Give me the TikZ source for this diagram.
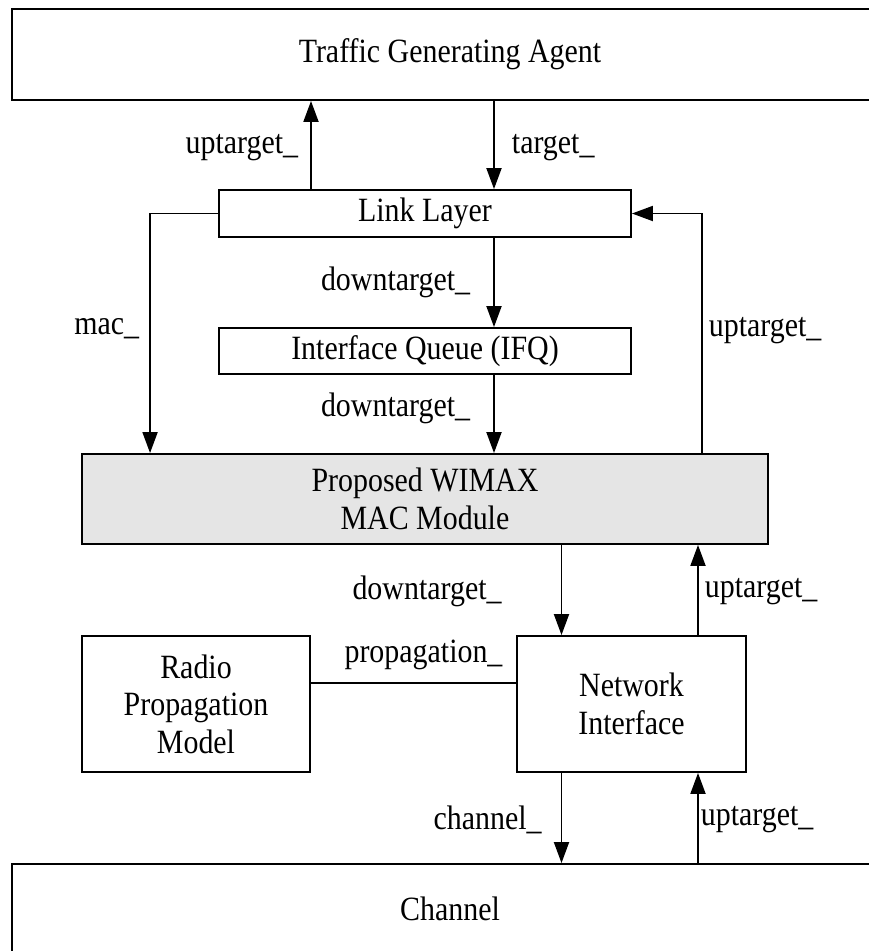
\documentclass[tikz,border=0pt]{standalone}
\usepackage{fontspec}
\setmainfont[FakeStretch=0.88]{Liberation Serif}
\usetikzlibrary{arrows.meta,positioning}

\begin{document}
\begin{tikzpicture}[x=1pt, y=-1pt, -{Triangle[length=21pt,width=15pt]}, line width=1.9pt, on grid, font=\fontsize{34}{37.5}\selectfont, block/.style={draw, inner sep=0pt, align=center}, lbl/.style={inner sep=0pt}]
\clip (0,0) rectangle (869,951);
\node[block, minimum width=876pt, minimum height=91pt] (tga) at (450,54.5) {Traffic Generating Agent};
\node[block, minimum width=412pt, minimum height=47pt] (ll) at (425,213.5) {Link Layer};
\node[block, minimum width=412pt, minimum height=46pt, below=137.5pt of ll] (ifq) {Interface Queue (IFQ)};
\node[block, fill=gray!20, minimum width=686pt, minimum height=90pt, below=148pt of ifq] (mac) {Proposed WIMAX\\MAC Module};
\node[block, minimum width=228pt, minimum height=136pt] (rpm) at (196,704) {Radio\\Propagation\\Model};
\node[block, minimum width=229pt, minimum height=136pt, right=435.5pt of rpm] (ni) {Network\\Interface};
\node[block, minimum width=876pt, minimum height=89pt] (ch) at (450,908.5) {Channel};

\draw ([xshift=-114pt]ll.north) -- ([xshift=-114pt]ll.north |- tga.south) node[lbl, pos=0.47, left=12pt] {uptarget\_};
\draw ([xshift=69pt]ll.north |- tga.south) -- ([xshift=69pt]ll.north) node[lbl, pos=0.53, right=17pt] {target\_};
\draw (ll.west) -| ([xshift=69pt]mac.north west) node[lbl, pos=0.74, left=10pt] {mac\_};
\draw ([xshift=-67pt]mac.north east) |- (ll.east) node[lbl, pos=0.255, right=6pt] {uptarget\_};
\draw ([xshift=69pt]ll.south) -- ([xshift=69pt]ifq.north) node[lbl, midway, left=23pt] {downtarget\_};
\draw ([xshift=69pt]ifq.south) -- ([xshift=69pt]ifq.south |- mac.north) node[lbl, pos=0.43, left=23pt] {downtarget\_};

\draw ([xshift=-70pt]ni.north |- mac.south) -- ([xshift=-70pt]ni.north) node[lbl, pos=0.52, left=59pt] {downtarget\_};
\draw ([xshift=66.5pt]ni.north) -- ([xshift=66.5pt]ni.north |- mac.south) node[lbl, pos=0.48, right=6pt] {uptarget\_};
\draw[-] ([yshift=21pt]rpm.east) -- ([yshift=21pt]rpm.east -| ni.west) node[lbl, midway, above=12pt, xshift=10pt] {propagation\_};
\draw ([xshift=-70pt]ni.south) -- ([xshift=-70pt]ni.south |- ch.north) node[lbl, pos=0.52, left=19pt] {channel\_};
\draw ([xshift=66.5pt]ni.south |- ch.north) -- ([xshift=66.5pt]ni.south) node[lbl, pos=0.48, right=2pt] {uptarget\_};
\end{tikzpicture}
\end{document}
